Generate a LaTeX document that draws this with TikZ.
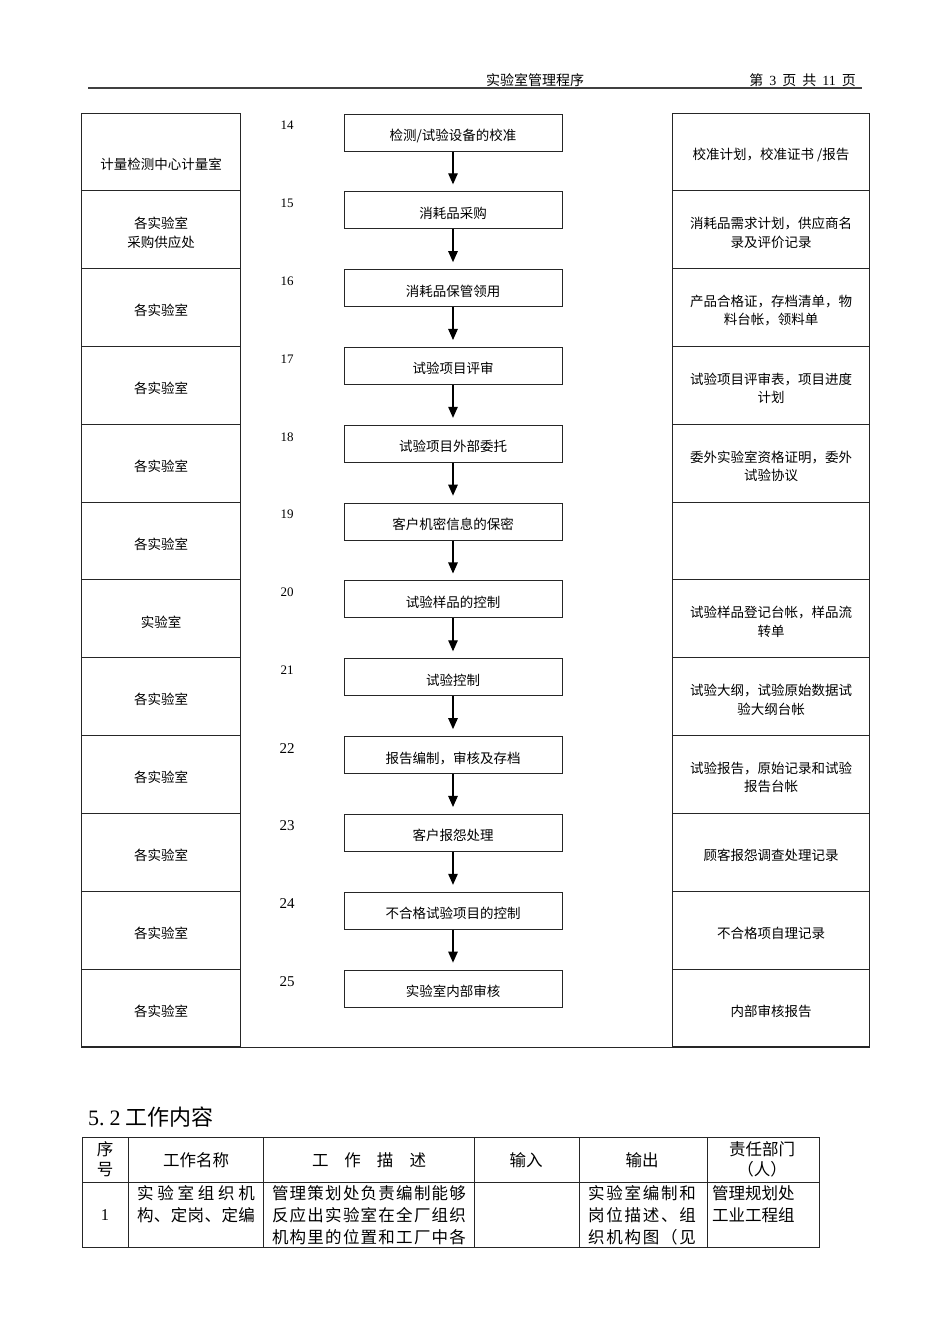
\documentclass[tikz,border=0pt]{standalone}
\usepackage{fontspec}
\setmainfont{Noto Sans CJK SC}
\newfontfamily\tnr{Liberation Serif}
\usetikzlibrary{arrows.meta}

\def\spreadchars#1{\spreadA#1\relax}
\def\spreadA#1{#1\spreadB}
\def\spreadB#1{\ifx#1\relax\else\hfil#1\expandafter\spreadB\fi}
\newcommand\jline[2]{\hbox to #1{\spreadchars{#2}}}

\tikzset{
  frame/.style={draw=black!85, line width=1pt},
  cellL/.style={frame, minimum width=159pt, minimum height=77.83pt, inner sep=0pt},
  cellR/.style={frame, minimum width=197pt, minimum height=77.83pt, inner sep=0pt},
  flowbox/.style={frame, minimum width=218pt, minimum height=37pt, inner sep=0pt,
    text height=17.5pt, text depth=1.6pt, font=\fontsize{13.5}{16}\selectfont},
  coltext/.style={align=center, inner sep=0pt, font=\fontsize{13.5}{18.5}\selectfont},
  numlab/.style={inner sep=0pt, font=\tnr\fontsize{13}{14}\selectfont},
  arr/.style={draw=black, line width=1.2pt, -{Triangle[width=9.5pt,length=11pt]}, shorten >=7pt},
  tabtext/.style={inner sep=0pt, font=\fontsize{16.5}{22}\selectfont},
}

% #1 number, #2 top, #3 left text, #4 box text, #5 right text, #6 left text shift, #7 number size
\newcommand\flowrow[7]{%
  \node[cellL, anchor=north west] (L#1) at (81,#2) {};
  \node[coltext] (LT#1) at ([yshift=-#6]L#1.center) {#3};
  \node[cellR, anchor=north west] (R#1) at (672,#2) {};
  \node[coltext] (RT#1) at ([yshift=-3pt]R#1.center) {#5};
  \node[numlab, font=\tnr\fontsize{#7}{#7}\selectfont] (N#1) at (287,#2+13) {#1};
  \node[flowbox, anchor=north] (B#1) at (453,#2+1) {#4};
}

\begin{document}
\begin{tikzpicture}[x=1pt,y=-1pt]
\useasboundingbox[fill=white] (0,0) rectangle (950,1344);

% page header
\node[inner sep=0pt, font=\fontsize{14}{16}\selectfont] (hdr) at (535,80) {实验室管理程序};
\node[inner sep=0pt, font=\fontsize{14}{16}\selectfont, anchor=east] (pg) at (856,80)
  {第\hspace{6pt}{\tnr 3}\hspace{6pt}页\hspace{6pt}共\hspace{6pt}{\tnr 11}\hspace{6pt}页};
\coordinate (ruleA) at (88,88);
\coordinate (ruleB) at (862,88);
\draw[black!75, line width=1.6pt] (ruleA) -- (ruleB);

% flow rows
\flowrow{14}{112.5}{计量检测中心计量室}{检测/试验设备的校准}{校准计划，校准证书 /报告}{12pt}{13}
\flowrow{15}{190.33}{各实验室\\采购供应处}{消耗品采购}{消耗品需求计划，供应商名\\录及评价记录}{3pt}{13}
\flowrow{16}{268.16}{各实验室}{消耗品保管领用}{产品合格证，存档清单，物\\料台帐，领料单}{3pt}{13}
\flowrow{17}{345.99}{各实验室}{试验项目评审}{试验项目评审表，项目进度\\计划}{3pt}{13}
\flowrow{18}{423.82}{各实验室}{试验项目外部委托}{委外实验室资格证明，委外\\试验协议}{3pt}{13}
\flowrow{19}{501.65}{各实验室}{客户机密信息的保密}{}{3pt}{13}
\flowrow{20}{579.48}{实验室}{试验样品的控制}{试验样品登记台帐，样品流\\转单}{3pt}{13}
\flowrow{21}{657.31}{各实验室}{试验控制}{试验大纲，试验原始数据试\\验大纲台帐}{3pt}{13}
\flowrow{22}{735.14}{各实验室}{报告编制，审核及存档}{试验报告，原始记录和试验\\报告台帐}{3pt}{15}
\flowrow{23}{812.97}{各实验室}{客户报怨处理}{顾客报怨调查处理记录}{3pt}{15}
\flowrow{24}{890.8}{各实验室}{不合格试验项目的控制}{不合格项自理记录}{3pt}{15}
\flowrow{25}{968.63}{各实验室}{实验室内部审核}{内部审核报告}{3pt}{15}

\draw[frame] (L25.south west) -- (R25.south east);

% arrows
\foreach \a/\b in {14/15,15/16,16/17,17/18,18/19,19/20,20/21,21/22,22/23,23/24,24/25}
  \draw[arr] (B\a.south) -- (B\b.north);

% section title
\node[inner sep=0pt, anchor=west, font=\fontsize{22}{24}\selectfont] (sec) at (88,1117)
  {{\tnr 5.\hspace{5pt}2}\hspace{5pt}工作内容};

% table
\coordinate (T0) at (82,1137);
\coordinate (T1) at (819,1247);
\draw[frame] (T0) rectangle (T1);
\draw[frame] (82,1182) -- (819,1182);
\foreach \x in {128,263,474,579,707}
  \draw[frame] (\x,1137) -- (\x,1247);

\node[tabtext] (h1a) at (105,1149) {序};
\node[tabtext] (h1b) at (105,1170) {号};
\node[tabtext] (h2) at (196,1160) {工作名称};
\node[tabtext] (h3) at (369,1160) {\jline{114pt}{工作描述}};
\node[tabtext] (h4) at (526,1160) {输入};
\node[tabtext] (h5) at (642,1160) {输出};
\node[tabtext] (h6a) at (762,1149) {责任部门};
\node[tabtext] (h6b) at (762,1169) {（人）};

\node[tabtext, font=\tnr\fontsize{16.5}{20}\selectfont] (c1) at (105,1215) {1};
\node[tabtext] (c2a) at (196,1193) {\jline{118pt}{实验室组织机}};
\node[tabtext] (c2b) at (196,1215) {\jline{118pt}{构、定岗、定编}};
\node[tabtext] (c3a) at (369,1193) {\jline{194pt}{管理策划处负责编制能够}};
\node[tabtext] (c3b) at (369,1215) {\jline{194pt}{反应出实验室在全厂组织}};
\node[tabtext] (c3c) at (369,1237) {\jline{194pt}{机构里的位置和工厂中各}};
\node[tabtext] (c5a) at (642,1193) {\jline{108pt}{实验室编制和}};
\node[tabtext] (c5b) at (642,1215) {\jline{108pt}{岗位描述、组}};
\node[tabtext] (c5c) at (642,1237) {\jline{108pt}{织机构图（见}};
\node[tabtext, anchor=west] (c6a) at (712,1193) {管理规划处};
\node[tabtext, anchor=west] (c6b) at (712,1215) {工业工程组};
\end{tikzpicture}
\end{document}
